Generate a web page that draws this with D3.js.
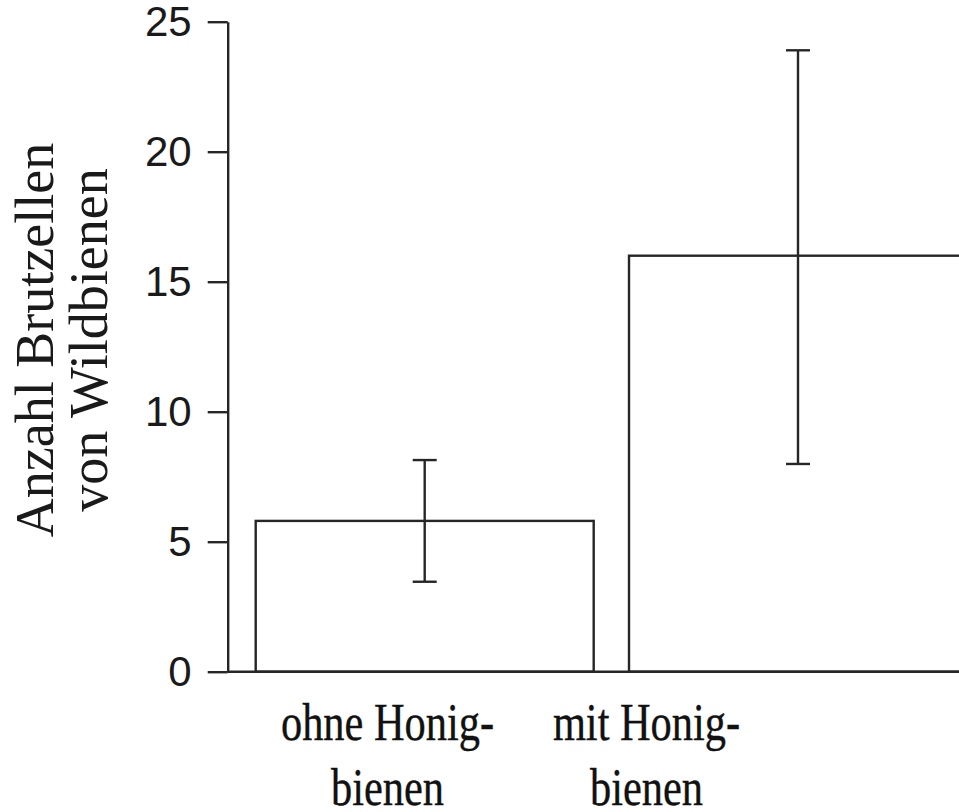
<!DOCTYPE html>
<html>
<head>
<meta charset="utf-8">
<script src="https://cdn.jsdelivr.net/npm/d3@7"></script>
<style>
  html, body { margin: 0; padding: 0; background: #fff; }
  svg { display: block; }
</style>
</head>
<body>
<div id="chart"></div>
<script>
// ── Data ──────────────────────────────────────────────────────────────────────
const categories = ['ohne', 'mit'];
const categoryLines = [['ohne Honig-', 'bienen'], ['mit Honig-', 'bienen']];
const means = [5.8, 16.0];
const errLow = [3.46, 7.99];
const errHigh = [8.14, 23.9];
const yTicks = [0, 5, 10, 15, 20, 25];
const yTitle = ['Anzahl Brutzellen', 'von Wildbienen'];

// ── Layout ────────────────────────────────────────────────────────────────────
const width = 959, height = 812;
const axisX = 227.7, yTop = 21.7, yBottom = 671.7;
const ink = '#262626';
const lw = 2.4;

const svg = d3.select('#chart').append('svg')
  .attr('width', width)
  .attr('height', height)
  .attr('viewBox', `0 0 ${width} ${height}`);

const y = d3.scaleLinear().domain([0, 25]).range([yBottom, yTop]);

const x = d3.scaleBand()
  .domain(categories)
  .range([axisX, 995])
  .paddingInner(0.0946)
  .paddingOuter(0.075);

// label centres are offset from the bars in the original
const xLabel = d3.scalePoint().domain(categories).range([387.5, 646.5]);

// Bars (no fill, outlined)
svg.append('g')
  .selectAll('rect')
  .data(categories)
  .join('rect')
  .attr('x', (d) => x(d))
  .attr('y', (d, i) => y(means[i]))
  .attr('width', x.bandwidth())
  .attr('height', (d, i) => y(0) - y(means[i]))
  .attr('fill', 'none')
  .attr('stroke', ink)
  .attr('stroke-width', lw);

// Error bars
const cap = 12;
const err = svg.append('g')
  .attr('stroke', ink)
  .attr('stroke-width', lw)
  .selectAll('g')
  .data(categories)
  .join('g');

err.append('line')
  .attr('x1', (d) => x(d) + x.bandwidth() / 2)
  .attr('x2', (d) => x(d) + x.bandwidth() / 2)
  .attr('y1', (d, i) => y(errLow[i]))
  .attr('y2', (d, i) => y(errHigh[i]));

err.append('line')
  .attr('x1', (d) => x(d) + x.bandwidth() / 2 - cap)
  .attr('x2', (d) => x(d) + x.bandwidth() / 2 + cap)
  .attr('y1', (d, i) => y(errHigh[i]))
  .attr('y2', (d, i) => y(errHigh[i]));

err.append('line')
  .attr('x1', (d) => x(d) + x.bandwidth() / 2 - cap)
  .attr('x2', (d) => x(d) + x.bandwidth() / 2 + cap)
  .attr('y1', (d, i) => y(errLow[i]))
  .attr('y2', (d, i) => y(errLow[i]));

// Baseline
svg.append('line')
  .attr('x1', axisX)
  .attr('x2', width)
  .attr('y1', y(0))
  .attr('y2', y(0))
  .attr('stroke', ink)
  .attr('stroke-width', lw);

// Y axis
const yAxis = svg.append('g')
  .attr('transform', `translate(${axisX},0)`)
  .call(d3.axisLeft(y).tickValues(yTicks).tickSize(20).tickSizeOuter(0).tickPadding(16));

yAxis.selectAll('path, line').attr('stroke', ink).attr('stroke-width', lw);
yAxis.selectAll('text')
  .attr('fill', '#1a1a1a')
  .attr('font-family', '"Liberation Sans", Arial, sans-serif')
  .attr('font-size', 42);

// Y title (two lines, rotated)
const title = svg.append('text')
  .attr('transform', 'translate(53,340) rotate(-90)')
  .attr('text-anchor', 'middle')
  .attr('font-family', '"Liberation Serif", "Times New Roman", serif')
  .attr('font-size', 54)
  .attr('fill', '#1a1a1a');

title.selectAll('tspan')
  .data(yTitle)
  .join('tspan')
  .attr('x', 0)
  .attr('y', (d, i) => i * 54)
  .text((d) => d);

// Category labels (condensed serif)
const labels = svg.append('g')
  .selectAll('text')
  .data(categories)
  .join('text')
  .attr('transform', (d) => `translate(${xLabel(d)},740) scale(0.8,1)`)
  .attr('text-anchor', 'middle')
  .attr('font-family', '"Liberation Serif", "Times New Roman", serif')
  .attr('font-size', 53)
  .attr('fill', '#111')
  .attr('stroke', '#111')
  .attr('stroke-width', 0.4);

labels.selectAll('tspan')
  .data((d, i) => categoryLines[i])
  .join('tspan')
  .attr('x', 0)
  .attr('y', (d, i) => i * 65)
  .text((d) => d);
</script>
</body>
</html>
